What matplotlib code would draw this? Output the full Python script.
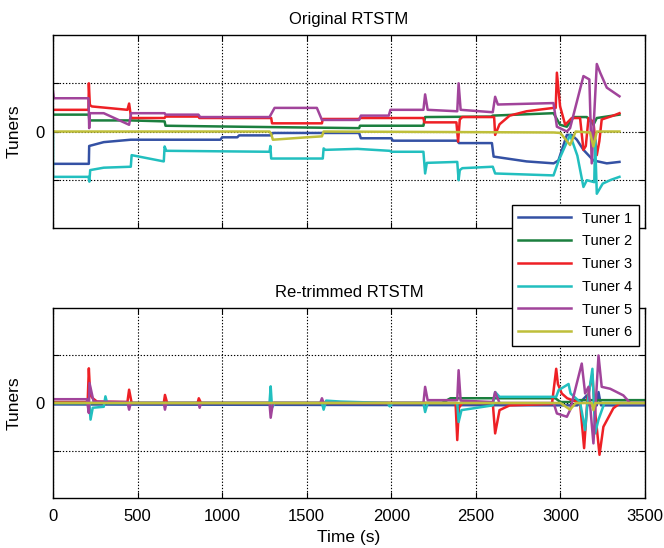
import matplotlib
matplotlib.use("Agg")
import matplotlib.pyplot as plt

plt.rcParams['font.family'] = ['Liberation Sans', 'DejaVu Sans']

labels = ['Tuner 1', 'Tuner 2', 'Tuner 3', 'Tuner 4', 'Tuner 5', 'Tuner 6']
colors = ['#3451a4', '#1b7f3e', '#ee2025', '#22bfbf', '#a1449b', '#bfbf3a']

# ---- Original RTSTM (time in s, tuner value) ----
orig_t1 = [0, 212, 214, 300, 460, 660, 990, 1000, 1090, 1100, 1290, 1300, 1810, 1820, 2000, 2010,
           2390, 2400, 2595, 2605, 2800, 2960, 2988, 3038, 3067, 3097, 3136, 3195, 3274, 3349]
orig_v1 = [-0.67, -0.67, -0.3, -0.22, -0.17, -0.17, -0.17, -0.12, -0.12, -0.08, -0.08, -0.03, -0.03, -0.14, -0.14, -0.19,
           -0.19, -0.24, -0.24, -0.52, -0.62, -0.66, -0.6, -0.07, -0.07, -0.17, -0.38, -0.6, -0.66, -0.63]

orig_t2 = [0, 212, 215, 460, 660, 665, 1090, 1810, 1815, 2190, 2200, 2590, 2600, 2959, 2998, 3038,
           3077, 3156, 3195, 3215, 3349]
orig_v2 = [0.35, 0.35, 0.23, 0.23, 0.21, 0.12, 0.1, 0.07, 0.12, 0.12, 0.3, 0.31, 0.33, 0.38, 0.14, 0.1,
           0.3, 0.3, 0.14, 0.28, 0.35]

orig_t3 = [0, 210, 212, 218, 230, 440, 450, 462, 660, 665, 860, 865, 1290, 1295, 1590, 1595, 1810, 1815,
           2190, 2195, 2385, 2395, 2405, 2420, 2608, 2614, 2640, 2700, 2800, 2959, 2972, 2979, 2998, 3028,
           3067, 3116, 3136, 3150, 3166, 3195, 3215, 3230, 3244, 3313, 3349]
orig_v3 = [0.45, 0.45, 1.0, 0.55, 0.52, 0.45, 0.58, 0.28, 0.28, 0.31, 0.31, 0.28, 0.28, 0.17, 0.17, 0.26, 0.26, 0.28,
           0.28, 0.19, 0.19, -0.21, 0.25, 0.3, 0.3, -0.07, 0.15, 0.33, 0.42, 0.49, 0.49, 1.22, 0.52, 0.14,
           0.28, 0.28, -0.38, -0.3, 0.28, 0.2, -0.49, -0.2, 0.25, 0.33, 0.38]

orig_t4 = [0, 0, 210, 215, 220, 300, 460, 465, 655, 660, 670, 1280, 1285, 1290, 1595, 1600, 1610, 1800,
           1990, 2000, 2190, 2200, 2210, 2390, 2398, 2405, 2420, 2600, 2614, 2959, 2990, 3057, 3100, 3136,
           3156, 3200, 3205, 3215, 3250, 3300, 3349]
orig_v4 = [0, -0.94, -0.94, -1.04, -0.8, -0.75, -0.73, -0.49, -0.62, -0.31, -0.4, -0.42, -0.3, -0.56, -0.56, -0.35, -0.38, -0.36,
           -0.4, -0.42, -0.42, -0.87, -0.65, -0.63, -1.01, -0.8, -0.76, -0.73, -0.87, -0.91, -0.6, -0.07, -0.5, -1.15,
           -1.01, -1.05, -0.17, -1.29, -1.08, -1.0, -0.94]

orig_t5 = [0, 5, 210, 214, 218, 300, 450, 462, 660, 665, 860, 870, 1280, 1310, 1560, 1590, 1810, 1820,
           1985, 1995, 2190, 2200, 2215, 2390, 2398, 2410, 2600, 2614, 2630, 2959, 2979, 3038, 3057, 3136,
           3171, 3185, 3215, 3235, 3274, 3349]
orig_v5 = [0.83, 0.69, 0.69, 0.07, 0.38, 0.38, 0.14, 0.38, 0.38, 0.35, 0.35, 0.3, 0.3, 0.49, 0.49, 0.24, 0.24, 0.33,
           0.33, 0.45, 0.45, 0.77, 0.45, 0.42, 1.0, 0.45, 0.4, 0.72, 0.56, 0.59, 0.1, 0.0, 0.07, 1.15,
           1.08, -0.66, 1.4, 1.22, 0.91, 0.73]

orig_t6 = [0, 1280, 1290, 1300, 1500, 1590, 1600, 2960, 3000, 3057, 3090, 3175, 3195, 3215, 3349]
orig_v6 = [0, 0, -0.05, -0.17, -0.12, -0.1, 0, -0.02, -0.03, -0.28, 0, -0.02, -0.31, 0.0, 0.0]

# ---- Re-trimmed RTSTM ----
re_t1 = [0, 3100, 3156, 3170, 3215, 3225, 3240, 3500]
re_v1 = [-0.03, -0.05, 0.16, -0.05, -0.05, 0.23, -0.05, -0.05]

re_t2 = [0, 2300, 2350, 2970, 3000, 3050, 3080, 3500]
re_v2 = [0, 0, 0.1, 0.1, 0.02, 0.02, 0.06, 0.06]

re_t3 = [0, 205, 212, 220, 235, 260, 440, 450, 465, 655, 662, 675, 855, 862, 875, 2380, 2390, 2400,
         2420, 2600, 2614, 2640, 2700, 2950, 2975, 2985, 3008, 3040, 3116, 3140, 3160, 3189, 3200,
         3231, 3254, 3313, 3353, 3500]
re_v3 = [0.02, 0.02, 0.73, 0.17, 0.1, 0.03, 0.02, 0.28, 0.0, 0.0, 0.17, 0.0, 0.0, 0.1, 0.0, 0.0, -0.78, -0.1,
         0.0, 0.0, -0.64, -0.15, -0.05, -0.02, 0.72, 0.4, 0.2, 0.1, 0.0, -0.95, 0.1, 0.6, 0.0,
         -1.09, -0.5, -0.11, 0.0, 0.0]

re_t4 = [0, 215, 222, 235, 300, 310, 320, 1280, 1287, 1295, 1310, 1590, 1600, 1615, 1700, 1980, 1990, 2010,
         2190, 2200, 2215, 2390, 2398, 2415, 2600, 2614, 2640, 2975, 2989, 3048, 3060, 3116, 3146, 3160,
         3189, 3205, 3225, 3260, 3500]
re_v4 = [0, 0, -0.35, -0.1, -0.08, 0.14, 0.0, 0.0, 0.35, -0.1, 0.0, 0.0, -0.14, 0.05, 0.03, 0.0, -0.07, 0.0,
         0.0, -0.19, 0.0, 0.0, -0.4, -0.15, -0.05, 0.23, 0.13, 0.13, 0.27, 0.4, 0.2, 0.02, -0.57, 0.0,
         0.72, -0.64, -0.35, 0.0, 0.0]

re_t5 = [0, 200, 212, 216, 240, 440, 450, 460, 655, 662, 670, 860, 867, 875, 1280, 1287, 1300, 1580, 1590,
         1600, 2190, 2200, 2215, 2390, 2398, 2410, 2600, 2614, 2640, 2960, 2979, 3038, 3057, 3126, 3146,
         3166, 3195, 3225, 3244, 3294, 3372, 3412, 3500]
re_v5 = [0.08, 0.08, -0.21, 0.42, 0.03, 0.02, -0.14, 0.0, 0.0, -0.14, 0.0, 0.0, -0.1, 0.0, 0.0, -0.31, 0.0, 0.0, 0.1,
         0.0, 0.0, 0.34, 0.06, 0.06, 0.69, 0.05, 0.02, 0.23, 0.0, 0.0, -0.22, -0.29, -0.15, 0.83, 0.2,
         0.34, -0.85, 1.0, 0.34, 0.3, 0.16, 0.0, 0.0]

re_t6 = [0, 3000, 3057, 3090, 3185, 3195, 3205, 3500]
re_v6 = [0, 0, -0.14, 0, 0, -0.15, 0, 0]

orig = [(orig_t1, orig_v1), (orig_t2, orig_v2), (orig_t3, orig_v3),
        (orig_t4, orig_v4), (orig_t5, orig_v5), (orig_t6, orig_v6)]
retrim = [(re_t1, re_v1), (re_t2, re_v2), (re_t3, re_v3),
          (re_t4, re_v4), (re_t5, re_v5), (re_t6, re_v6)]

fig = plt.figure(figsize=(6.64, 5.48), dpi=100)
ax1 = fig.add_axes([0.0798, 0.584, 0.8916, 0.352])
ax2 = fig.add_axes([0.0798, 0.0912, 0.8916, 0.3468])

handles = []
for ax, series, title in [(ax1, orig, 'Original RTSTM'), (ax2, retrim, 'Re-trimmed RTSTM')]:
    for (t, v), c, lab in zip(series, colors, labels):
        h, = ax.plot(t, v, color=c, lw=1.8, label=lab)
        if ax is ax1:
            handles.append(h)
    ax.set_xlim(0, 3500)
    ax.set_ylim(-2, 2)
    ax.set_xticks(range(0, 3501, 500))
    ax.set_yticks([-1, 0, 1])
    ax.set_yticklabels(['', '0', ''])
    ax.grid(True, color='black', linestyle=(0, (1.2, 1.6)), linewidth=0.8)
    ax.tick_params(direction='in', top=True, right=True, length=4, labelsize=12)
    ax.tick_params(axis='x', pad=8)
    ax.tick_params(axis='y', pad=6)
    ax.set_ylabel('Tuners', fontsize=12.5, labelpad=10)
    ax.set_title(title, fontsize=12, pad=8)
    for s in ax.spines.values():
        s.set_linewidth(1.0)

ax1.tick_params(labelbottom=False)
ax2.set_xlabel('Time (s)', fontsize=12.5, labelpad=4)

fig.legend(handles=handles, loc='upper right', bbox_to_anchor=(0.9623, 0.626),
           fontsize=10.5, handlelength=3.6, labelspacing=0.6, frameon=True,
           fancybox=False, framealpha=1, edgecolor='black', borderpad=0.45,
           borderaxespad=0)

fig.savefig('out.png', dpi=100)
